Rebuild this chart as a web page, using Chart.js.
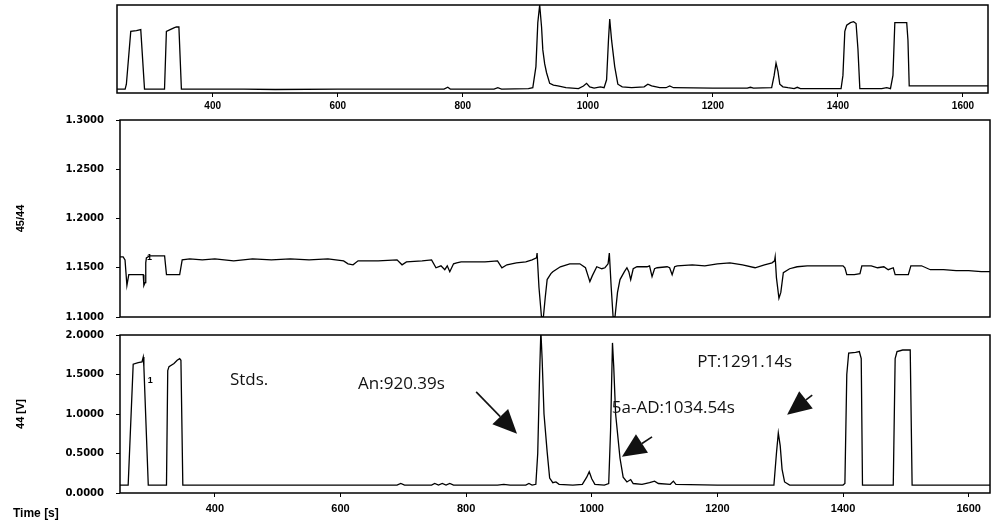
<!DOCTYPE html>
<html lang="en">
<head>
<meta charset="UTF-8" />
<title>IRMS trace</title>
<script src="https://cdn.jsdelivr.net/npm/chart.js"></script>
<style>
  body { margin: 0; background: #fff; }
  .wrap { position: relative; width: 993px; height: 526px; }
  .wrap canvas { position: absolute; left: 0; }
  #topChart { top: 0; }
  #ratioChart { top: 112px; }
  #ampChart { top: 327px; }
</style>
</head>
<body>
<div class="wrap">
  <canvas id="topChart" width="993" height="118"></canvas>
  <canvas id="ratioChart" width="993" height="210"></canvas>
  <canvas id="ampChart" width="993" height="199"></canvas>
</div>
<script>
// x axis ticks (time, s)
const timeTicks = [400, 600, 800, 1000, 1200, 1400, 1600];
const ratioTicks = [1.1, 1.15, 1.2, 1.25, 1.3];
const ampTicks = [0, 0.5, 1.0, 1.5, 2.0];

// top trace (no scale shown)
const topTime = [247, 260, 262, 269, 278, 285, 291, 323, 326, 332, 338, 342, 346, 350,
  450, 500, 600, 700, 770, 776, 780, 850, 856, 862, 905, 912, 917, 920, 923, 926, 928, 931, 934, 939, 945, 952, 965, 985,
  993, 998, 1003, 1010, 1020, 1026, 1030, 1033, 1035, 1038, 1043, 1048, 1055, 1070, 1090, 1096, 1102, 1115, 1125, 1131, 1137,
  1200, 1255, 1260, 1265, 1294, 1298, 1301, 1304, 1307, 1312, 1320, 1330, 1335, 1340,
  1405, 1408, 1411, 1414, 1420, 1425, 1429, 1432, 1435, 1470, 1478, 1484, 1488, 1491, 1500, 1510, 1512, 1514, 1560, 1600, 1640];
const topSignal = [0.045, 0.045, 0.1, 0.70, 0.71, 0.72, 0.045, 0.045, 0.70, 0.72, 0.74, 0.75, 0.75, 0.045,
  0.045, 0.04, 0.045, 0.045, 0.045, 0.065, 0.045, 0.045, 0.06, 0.045, 0.05, 0.06, 0.3, 0.8, 1.0, 0.75, 0.49, 0.33, 0.23, 0.11, 0.09, 0.08, 0.06, 0.05,
  0.08, 0.11, 0.07, 0.055, 0.07, 0.06, 0.15, 0.6, 0.84, 0.6, 0.30, 0.10, 0.07, 0.06, 0.07, 0.1, 0.08, 0.06, 0.06, 0.08, 0.06,
  0.055, 0.055, 0.065, 0.055, 0.06, 0.2, 0.34, 0.25, 0.10, 0.07, 0.06, 0.05, 0.065, 0.05,
  0.05, 0.2, 0.7, 0.77, 0.8, 0.81, 0.79, 0.5, 0.05, 0.05, 0.06, 0.05, 0.2, 0.80, 0.80, 0.80, 0.6, 0.08, 0.08, 0.08, 0.08];

// 45/44 ratio
const ratioTime = [249, 254, 257, 260, 263, 272, 282, 286, 287, 289, 290, 291, 296, 300, 320, 323, 335, 344, 348,
  360, 380, 400, 430, 460, 490, 520, 550, 580, 605, 612, 620, 628, 660, 690, 698, 705, 730, 745, 752, 760, 766, 770, 774, 780, 785, 792,
  830, 850, 857, 865, 880, 895, 905, 912, 913, 916, 920, 923, 926, 929, 935, 938, 950, 965, 981, 990, 995, 997, 1001, 1008, 1016, 1021, 1026,
  1028, 1031, 1034, 1037, 1041, 1045, 1052, 1056, 1059, 1062, 1066, 1072, 1088, 1092, 1096, 1100, 1104, 1120, 1124, 1128, 1132, 1136,
  1160, 1180, 1200, 1220, 1240, 1260, 1275, 1287, 1291, 1292, 1294, 1298, 1301, 1305, 1315, 1327, 1343, 1370, 1400, 1403, 1406, 1418, 1427, 1430,
  1445, 1455, 1465, 1472, 1480, 1483, 1495, 1504, 1508, 1525, 1539, 1560, 1580, 1600, 1620, 1634];
const ratioValue = [1.161, 1.161, 1.158, 1.132, 1.143, 1.143, 1.143, 1.143, 1.132, 1.135, 1.155, 1.160, 1.162, 1.162, 1.162, 1.143, 1.143, 1.143, 1.158,
  1.159, 1.158, 1.159, 1.157, 1.159, 1.158, 1.159, 1.158, 1.159, 1.157, 1.154, 1.153, 1.157, 1.157, 1.158, 1.153, 1.156, 1.157, 1.158, 1.150, 1.152, 1.148, 1.152, 1.146, 1.154, 1.155, 1.156,
  1.156, 1.157, 1.150, 1.153, 1.155, 1.156, 1.158, 1.160, 1.165, 1.13, 1.10, 1.10, 1.12, 1.138, 1.144, 1.146, 1.151, 1.154, 1.154, 1.150, 1.140, 1.136, 1.142, 1.151, 1.149, 1.150, 1.154,
  1.165, 1.13, 1.10, 1.10, 1.125, 1.138, 1.146, 1.150, 1.146, 1.138, 1.149, 1.151, 1.151, 1.152, 1.141, 1.149, 1.150, 1.151, 1.150, 1.143, 1.151, 1.152,
  1.153, 1.152, 1.154, 1.155, 1.153, 1.150, 1.153, 1.155, 1.157, 1.161, 1.14, 1.119, 1.125, 1.145, 1.149, 1.151, 1.152, 1.152, 1.152, 1.150, 1.143, 1.143, 1.144, 1.152,
  1.152, 1.150, 1.151, 1.148, 1.150, 1.143, 1.143, 1.143, 1.152, 1.152, 1.148, 1.148, 1.147, 1.147, 1.146, 1.146];

// mass 44 amplitude [V]
const ampTime = [249, 259, 262, 270, 278, 284, 286, 287, 294, 323, 325, 327, 335, 340, 344, 346, 349,
  400, 500, 600, 690, 696, 702, 745, 750, 756, 762, 768, 774, 780, 850, 860, 870, 895, 900, 905,
  911, 914, 917, 919, 921, 924, 929, 933, 938, 943, 948, 970, 985, 992, 996, 1000, 1005, 1020,
  1027, 1030, 1033, 1035, 1038, 1045, 1050, 1056, 1062, 1066, 1080, 1092, 1100, 1106, 1125, 1130, 1134,
  1200, 1260, 1290, 1294, 1297, 1300, 1303, 1307, 1315, 1400, 1403, 1406, 1409, 1420, 1426, 1429, 1431,
  1480, 1483, 1486, 1495, 1507, 1510, 1560, 1634];
const ampValue = [0.1, 0.1, 0.1, 1.63, 1.65, 1.66, 1.72, 1.60, 0.1, 0.1, 1.55, 1.60, 1.64, 1.68, 1.70, 1.68, 0.1,
  0.1, 0.1, 0.1, 0.1, 0.12, 0.1, 0.1, 0.12, 0.1, 0.12, 0.1, 0.12, 0.1, 0.1, 0.11, 0.1, 0.1, 0.12, 0.1,
  0.11, 0.5, 1.5, 2.05, 1.7, 1.0, 0.52, 0.19, 0.13, 0.14, 0.11, 0.1, 0.11, 0.2, 0.27, 0.18, 0.11, 0.1,
  0.12, 0.8, 1.9, 1.6, 1.0, 0.44, 0.2, 0.14, 0.17, 0.12, 0.11, 0.13, 0.15, 0.12, 0.11, 0.15, 0.11,
  0.1, 0.1, 0.1, 0.5, 0.76, 0.6, 0.3, 0.14, 0.1, 0.1, 0.12, 1.5, 1.77, 1.78, 1.79, 1.7, 0.1,
  0.1, 1.7, 1.79, 1.81, 1.81, 0.1, 0.1, 0.1];

// annotations on the 44 panel
const noteText = ['Stds.', 'An:920.39s', '5a-AD:1034.54s', 'PT:1291.14s'];
const noteTime = [424, 628, 1032, 1168];
const noteLevel = [1.43, 1.38, 1.08, 1.66];
const arrowFromTime = [816, 1096, 1351];
const arrowFromLevel = [1.28, 0.71, 1.24];
const arrowToTime = [881, 1048, 1311];
const arrowToLevel = [0.75, 0.46, 0.99];

function pts(xs, ys) {
  return xs.map((x, i) => ({ x: x, y: ys[i] }));
}

function fixTicks(values) {
  return function (scale) {
    scale.ticks = values.map(v => ({ value: v }));
  };
}

// box round the plot area
const framePlugin = {
  id: 'frame',
  afterDraw(chart) {
    const a = chart.chartArea;
    const ctx = chart.ctx;
    ctx.save();
    ctx.strokeStyle = '#000';
    ctx.lineWidth = 1.5;
    ctx.strokeRect(a.left, a.top, a.right - a.left, a.bottom - a.top);
    ctx.restore();
  }
};

function traceDataset(data) {
  return {
    data: data,
    borderColor: '#000',
    borderWidth: 1.3,
    pointRadius: 0,
    tension: 0,
    fill: false
  };
}

function tickGrid() {
  return { drawOnChartArea: false, drawTicks: true, tickLength: 4, color: '#000', lineWidth: 1 };
}

// keep the plot box where the layout padding puts it
function fitY(s) {
  s.width = 120;
  s.paddingTop = 0;
  s.paddingBottom = 0;
}

function fitX(h) {
  return function (s) {
    s.height = h;
    s.paddingLeft = 0;
    s.paddingRight = 0;
  };
}

const base = {
  responsive: false,
  animation: false,
  events: [],
  plugins: { legend: { display: false }, tooltip: { enabled: false } }
};

// top panel
new Chart(document.getElementById('topChart'), {
  type: 'line',
  data: { datasets: [traceDataset(pts(topTime, topSignal))] },
  options: Object.assign({}, base, {
    layout: { padding: { top: 5, left: 117, right: 5, bottom: 0 } },
    scales: {
      x: {
        type: 'linear', min: 247, max: 1640,
        afterBuildTicks: fixTicks(timeTicks),
        afterFit: fitX(25),
        border: { display: false },
        grid: tickGrid(),
        ticks: { color: '#000', padding: 3, maxRotation: 0, callback: v => String(v),
                 font: { family: 'Liberation Sans', size: 10, weight: 'bold' } }
      },
      y: { display: false, min: 0, max: 1 }
    }
  }),
  plugins: [framePlugin]
});

// ratio panel
new Chart(document.getElementById('ratioChart'), {
  type: 'line',
  data: { datasets: [traceDataset(pts(ratioTime, ratioValue))] },
  options: Object.assign({}, base, {
    layout: { padding: { top: 8, left: 0, right: 3, bottom: 5 } },
    scales: {
      x: { type: 'linear', display: false, min: 249, max: 1634 },
      y: {
        min: 1.1, max: 1.3,
        afterBuildTicks: fixTicks(ratioTicks),
        afterFit: fitY,
        border: { display: false },
        grid: tickGrid(),
        title: { display: true, text: '45/44', color: '#000', padding: { top: 14, bottom: 0 },
                 font: { family: 'Liberation Sans', size: 11, weight: 'bold' } },
        ticks: { color: '#000', padding: 12, callback: v => v.toFixed(4),
                 font: { family: 'DejaVu Sans', size: 10, weight: 'bold' } }
      }
    }
  }),
  plugins: [framePlugin, {
    id: 'ratioNote',
    afterDraw(chart) {
      const ctx = chart.ctx;
      ctx.save();
      ctx.fillStyle = '#000';
      ctx.font = 'bold 9px "Liberation Sans"';
      ctx.fillText('1', chart.scales.x.getPixelForValue(292), chart.scales.y.getPixelForValue(1.158));
      ctx.restore();
    }
  }]
});

// 44 amplitude panel
function drawArrow(ctx, x1, y1, x2, y2) {
  const ang = Math.atan2(y2 - y1, x2 - x1);
  const len = 24, half = 11;
  const bx = x2 - len * Math.cos(ang), by = y2 - len * Math.sin(ang);
  ctx.beginPath();
  ctx.moveTo(x1, y1);
  ctx.lineTo(bx, by);
  ctx.stroke();
  ctx.beginPath();
  ctx.moveTo(x2, y2);
  ctx.lineTo(bx + half * Math.sin(ang), by - half * Math.cos(ang));
  ctx.lineTo(bx - half * Math.sin(ang), by + half * Math.cos(ang));
  ctx.closePath();
  ctx.fill();
}

new Chart(document.getElementById('ampChart'), {
  type: 'line',
  data: { datasets: [traceDataset(pts(ampTime, ampValue))] },
  options: Object.assign({}, base, {
    layout: { padding: { top: 8, left: 0, right: 3, bottom: 0 } },
    scales: {
      x: {
        type: 'linear', min: 249, max: 1634,
        afterBuildTicks: fixTicks(timeTicks),
        afterFit: fitX(33),
        border: { display: false },
        grid: tickGrid(),
        ticks: { color: '#000', padding: 5, maxRotation: 0, callback: v => String(v),
                 font: { family: 'Liberation Sans', size: 11, weight: 'bold' } }
      },
      y: {
        min: 0, max: 2,
        afterBuildTicks: fixTicks(ampTicks),
        afterFit: fitY,
        border: { display: false },
        grid: tickGrid(),
        title: { display: true, text: '44 [V]', color: '#000', padding: { top: 14, bottom: 0 },
                 font: { family: 'Liberation Sans', size: 11, weight: 'bold' } },
        ticks: { color: '#000', padding: 12, callback: v => v.toFixed(4),
                 font: { family: 'DejaVu Sans', size: 10, weight: 'bold' } }
      }
    }
  }),
  plugins: [framePlugin, {
    id: 'notes',
    afterDraw(chart) {
      const ctx = chart.ctx;
      const xs = chart.scales.x, ys = chart.scales.y;
      ctx.save();
      ctx.fillStyle = '#111';
      ctx.strokeStyle = '#111';
      ctx.textBaseline = 'middle';
      ctx.font = '17px "Open Sans"';
      noteText.forEach((t, i) => {
        ctx.fillText(t, xs.getPixelForValue(noteTime[i]), ys.getPixelForValue(noteLevel[i]));
      });
      ctx.lineWidth = 1.6;
      arrowFromTime.forEach((t, i) => {
        drawArrow(ctx, xs.getPixelForValue(t), ys.getPixelForValue(arrowFromLevel[i]),
          xs.getPixelForValue(arrowToTime[i]), ys.getPixelForValue(arrowToLevel[i]));
      });
      ctx.fillStyle = '#000';
      ctx.font = 'bold 9px "Liberation Sans"';
      ctx.fillText('1', xs.getPixelForValue(293), ys.getPixelForValue(1.43));
      ctx.font = 'bold 12px "Liberation Sans"';
      ctx.fillText('Time [s]', 13, 187);
      ctx.restore();
    }
  }]
});
</script>
</body>
</html>
